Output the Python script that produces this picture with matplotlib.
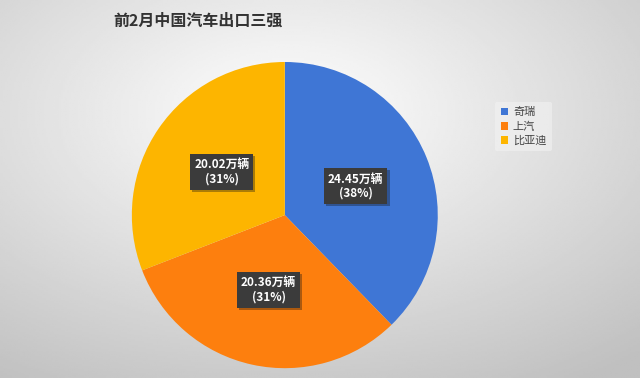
import numpy as np
import matplotlib
matplotlib.use("Agg")
import matplotlib.pyplot as plt
import matplotlib.patheffects as pe

plt.rcParams['font.family'] = ['Noto Sans CJK SC', 'DejaVu Sans']

# === DATA ===
TITLE = "前2月中国汽车出口三强"
brands = ["奇瑞", "上汽", "比亚迪"]
sales = [24.45, 20.36, 20.02]  # 万辆
pcts = [38, 31, 31]
colors = ["#3f76d5", "#fd7f0e", "#fdb500"]

fig = plt.figure(figsize=(6.4, 3.78), dpi=100)

# background: soft grey gradient
bg = fig.add_axes([0, 0, 1, 1])
yy, xx = np.mgrid[0:1:200j, 0:1:300j]
dist = np.sqrt(((xx - 0.45) / 0.85) ** 2 + ((yy - 0.3) / 0.85) ** 2)
bg.imshow(1 - 0.25 * np.clip(dist, 0, 1), cmap="gray", vmin=0, vmax=1,
          extent=[0, 1, 0, 1], aspect="auto", origin="upper")
bg.axis("off")

ax = fig.add_axes([0.206, 0.026, 0.478, 0.81])
wedges, _ = ax.pie(sales, colors=colors, startangle=90, counterclock=False,
                   wedgeprops=dict(linewidth=0))
ax.set_aspect("auto")
ax.set_xlim(-1, 1)
ax.set_ylim(-1, 1)
ax.axis("off")

for w, v, p in zip(wedges, sales, pcts):
    mid = np.deg2rad((w.theta1 + w.theta2) / 2)
    r = 0.5
    ax.text(r * np.cos(mid), r * np.sin(mid), f"{v:.2f}万辆\n({p}%)",
            ha="center", va="center", color="white", fontsize=8.5,
            fontweight="bold", linespacing=1.15,
            bbox=dict(boxstyle="square,pad=0.35", fc="#3b3b3b", ec="none",
                      path_effects=[pe.withSimplePatchShadow(offset=(1.5, -1.5), alpha=0.35)]))

fig.text(0.177, 0.945, TITLE, fontsize=11.5, fontweight="bold", color="#333333",
         ha="left", va="center")

leg = fig.legend(wedges, brands, loc="center left", bbox_to_anchor=(0.765, 0.665),
                 fontsize=8, frameon=True, handlelength=0.7, handleheight=0.7,
                 handletextpad=0.4, labelspacing=0.35, borderpad=0.5)
leg.get_frame().set_facecolor("#f2f2f2")
leg.get_frame().set_edgecolor("none")
leg.get_frame().set_alpha(0.6)
for t in leg.get_texts():
    t.set_color("#444444")

fig.savefig("out.png", dpi=100)
